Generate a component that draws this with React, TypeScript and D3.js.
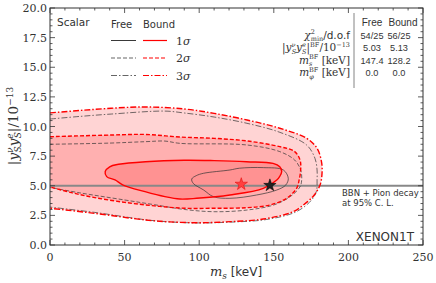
import React from 'react';
import * as d3 from 'd3';

type P = [number, number];

// contour points: [m_s in keV, |y y| in 1e-13]
const bound3: P[] = [
  [0, 11.15], [20, 11.35], [41, 11.54], [64, 11.65], [90, 11.48], [110, 11.11], [132, 10.55],
  [154, 9.85], [172, 9.0], [179, 8.16], [182, 7.0], [182.3, 6.0], [181, 5.06], [177, 4.2],
  [172, 3.6], [163, 2.81], [143, 2.19], [121, 1.97], [100, 1.88], [80, 1.95], [64, 2.11],
  [30, 2.67], [0, 3.1],
];
const free3: P[] = [
  [0, 10.63], [20, 10.85], [41, 11.05], [77, 11.3], [90, 11.14], [110, 10.8], [132, 10.27],
  [154, 9.51], [172, 8.44], [177.6, 7.31], [179, 6.33], [179, 5.5], [178.5, 4.5], [175, 3.75],
  [165, 2.8], [145, 2.15], [121, 1.93], [100, 1.86], [80, 1.95], [64, 2.13], [30, 2.75], [0, 3.2],
];
const bound2: P[] = [
  [0, 9.14], [41, 9.28], [64, 9.33], [87, 9.11], [110, 9.0], [132, 8.78], [154, 8.3],
  [164, 7.88], [167.6, 7.17], [168, 6.33], [167, 5.5], [165.3, 4.78], [158.6, 3.94],
  [147.5, 3.38], [131.8, 3.15], [110, 3.1], [90, 3.1], [70, 3.3], [50, 3.6], [30, 4.0],
  [15, 4.4], [0, 4.9],
];
const free2: P[] = [
  [0, 8.5], [40, 8.6], [64, 8.72], [77, 8.77], [87, 8.58], [132, 8.44], [154, 7.88],
  [164, 7.17], [168, 6.33], [168.7, 5.5], [167.5, 4.9], [161, 4.08], [150, 3.38],
  [132, 2.95], [110, 2.81], [90, 3.0], [70, 3.4], [50, 3.8], [20, 4.4], [0, 4.85],
];
const bound1: P[] = [
  [37, 6.2], [40, 6.6], [46, 6.81], [64, 7.03], [90, 7.15], [110, 7.12], [131.8, 7.03],
  [149.5, 6.89], [154, 6.61], [155.3, 6.2], [154, 5.8], [152, 5.49], [143, 4.78],
  [120.6, 4.22], [98.3, 3.94], [87, 3.88], [77, 4.08], [63.7, 4.5], [49, 5.06],
  [43.6, 5.49], [38, 5.77],
];
const free1: P[] = [
  [95, 5.57], [98, 5.85], [102.8, 6.05], [120.6, 6.33], [127, 6.48], [143, 6.53],
  [156.4, 6.33], [159.7, 5.63], [158, 5.06], [152, 4.64], [138.5, 4.22], [120.6, 3.94],
  [109.5, 4.08], [103, 4.64], [96, 5.2],
];

const bfFree: P = [147.4, 5.03];
const bfBound: P = [128.2, 5.13];
const bbnLimit = 5.0;

const xTicks = [0, 50, 100, 150, 200, 250];
const yTicks = [0, 2.5, 5, 7.5, 10, 12.5, 15, 17.5, 20];
const xMinor = d3.range(0, 251, 10);
const yMinor = d3.range(0, 20.01, 0.5);

const tableCols = ['Free', 'Bound'];
const chi2Row = ['54/25', '56/25'];
const couplingRow = ['5.03', '5.13'];
const msRow = ['147.4', '128.2'];
const mphiRow = ['0.0', '0.0'];

const sigmaLabels = ['1σ', '2σ', '3σ'];
const dashes = ['none', '4,2', '6,2,1.5,2'];

const SERIF = '"DejaVu Serif", serif';
const SANS = '"DejaVu Sans", sans-serif';
const NUM = '"Liberation Sans", sans-serif';
const INK = '#333';

export default function App() {
  const L = 50, R = 423, T = 8, B = 245;
  const x = d3.scaleLinear().domain([0, 250]).range([L, R]);
  const y = d3.scaleLinear().domain([0, 20]).range([B, T]);

  const open = d3.line<P>().x(d => x(d[0])).y(d => y(d[1])).curve(d3.curveCatmullRom.alpha(0.5));
  const closed = d3.line<P>().x(d => x(d[0])).y(d => y(d[1])).curve(d3.curveCatmullRomClosed.alpha(0.5));
  const star = d3.symbol().type(d3.symbolStar).size(48)();

  const fmt = d3.format('.1f');

  // table column centres
  const colX = [372, 399];
  const rowY = [38.5, 51, 63.5, 76];
  const rows = [chi2Row, couplingRow, msRow, mphiRow];
  const s = 6.5; // script size in the table

  return (
    <svg width={436} height={283} style={{ position: 'absolute', left: 0, top: 0 }}
      xmlns="http://www.w3.org/2000/svg">
      <defs>
        <clipPath id="plot"><rect x={L} y={T} width={R - L} height={B - T} /></clipPath>
      </defs>
      <rect width={436} height={283} fill="#fff" />
      <g clipPath="url(#plot)">
        {[bound3, bound2].map((c, i) => (
          <path key={'f' + i} d={open(c) + 'Z'} fill="#ff0000" fillOpacity={0.17} />
        ))}
        <path d={closed(bound1) || ''} fill="#ff0000" fillOpacity={0.17} />
        <line x1={L} x2={R} y1={y(bbnLimit)} y2={y(bbnLimit)} stroke="#888" strokeWidth={1.8} />
        <path d={open(free3) || ''} fill="none" stroke="#333" strokeWidth={0.7} strokeDasharray={dashes[2]} />
        <path d={open(free2) || ''} fill="none" stroke="#333" strokeWidth={0.7} strokeDasharray={dashes[1]} />
        <path d={closed(free1) || ''} fill="none" stroke="#333" strokeWidth={0.7} />
        <path d={open(bound3) || ''} fill="none" stroke="#ff0000" strokeWidth={1.4} strokeDasharray={dashes[2]} />
        <path d={open(bound2) || ''} fill="none" stroke="#ff0000" strokeWidth={1.4} strokeDasharray={dashes[1]} />
        <path d={closed(bound1) || ''} fill="none" stroke="#ff0000" strokeWidth={1.4} />
        <path d={star} transform={`translate(${x(bfBound[0])},${y(bfBound[1])})`} fill="#ff4040" stroke="#e00000" strokeWidth={0.5} />
        <path d={star} transform={`translate(${x(bfFree[0])},${y(bfFree[1])})`} fill="#222" stroke="#000" strokeWidth={0.5} />
      </g>

      {/* frame and ticks */}
      <rect x={L} y={T} width={R - L} height={B - T} fill="none" stroke={INK} strokeWidth={1} />
      <g stroke={INK} strokeWidth={0.8}>
        {xMinor.map(v => {
          const len = xTicks.includes(v) ? 5 : 2.5;
          return (
            <g key={'xm' + v}>
              <line x1={x(v)} x2={x(v)} y1={B} y2={B - len} />
              <line x1={x(v)} x2={x(v)} y1={T} y2={T + len} />
            </g>
          );
        })}
        {yMinor.map(v => {
          const len = Math.abs(v / 2.5 - Math.round(v / 2.5)) < 1e-6 ? 5 : 2.5;
          return (
            <g key={'ym' + v}>
              <line x1={L} x2={L + len} y1={y(v)} y2={y(v)} />
              <line x1={R} x2={R - len} y1={y(v)} y2={y(v)} />
            </g>
          );
        })}
      </g>
      <g fontFamily={SERIF} fontSize={11} fill={INK}>
        {xTicks.map(v => (
          <text key={'xt' + v} x={x(v)} y={B + 16} textAnchor="middle">{v}</text>
        ))}
        {yTicks.map(v => (
          <text key={'yt' + v} x={L - 3} y={y(v) + 4} textAnchor="end">{fmt(v)}</text>
        ))}
      </g>

      {/* axis labels */}
      <text x={236} y={276} textAnchor="middle" fill={INK} fontSize={13}>
        <tspan fontFamily={SERIF} fontStyle="italic">m</tspan>
        <tspan fontFamily={SERIF} fontStyle="italic" fontSize={9} dy={3}>s</tspan>
        <tspan fontFamily={SANS} fontSize={12} dy={-3}> [keV]</tspan>
      </text>
      <text transform="translate(18,126) rotate(-90)" textAnchor="middle" fill={INK} fontFamily={SERIF} fontSize={13.5}>
        <tspan>|</tspan>
        <tspan fontStyle="italic">y</tspan>
        <tspan fontSize={9} fontStyle="italic" dy={-5}>ν</tspan>
        <tspan fontSize={9} fontStyle="italic" dx={-5} dy={8}>S</tspan>
        <tspan fontStyle="italic" dy={-3}>y</tspan>
        <tspan fontSize={9} fontStyle="italic" dy={-5}>e</tspan>
        <tspan fontSize={9} fontStyle="italic" dx={-5} dy={8}>S</tspan>
        <tspan dy={-3}>|/10</tspan>
        <tspan fontSize={9} dy={-5}>−13</tspan>
      </text>

      {/* legend */}
      <text x={57} y={26} fontFamily={SANS} fontSize={10.5} fill={INK}>Scalar</text>
      <text x={111} y={28} fontFamily={SANS} fontSize={10} fill={INK}>Free</text>
      <text x={143} y={28} fontFamily={SANS} fontSize={10} fill={INK}>Bound</text>
      {sigmaLabels.map((lab, i) => {
        const ly = 40.5 + i * 17.5;
        return (
          <g key={lab}>
            <line x1={111} x2={136} y1={ly} y2={ly} stroke="#222" strokeWidth={i === 0 ? 0.9 : 0.7} strokeDasharray={dashes[i]} />
            <line x1={143} x2={167} y1={ly} y2={ly} stroke="#ff0000" strokeWidth={1.2} strokeDasharray={dashes[i]} />
            <text x={176} y={ly + 4} fontFamily={SERIF} fontSize={11} fill={INK}>
              {lab[0]}<tspan fontStyle="italic">{lab[1]}</tspan>
            </text>
          </g>
        );
      })}

      {/* best-fit table */}
      <line x1={354} x2={354} y1={13} y2={88} stroke="#666" strokeWidth={0.8} />
      <g fontFamily={NUM} fill={INK}>
        <text x={372} y={26} fontSize={10} textAnchor="middle">{tableCols[0]}</text>
        <text x={403} y={26} fontSize={10} textAnchor="middle">{tableCols[1]}</text>
        {rows.map((r, i) => r.map((v, j) => (
          <text key={`c${i}${j}`} x={colX[j]} y={rowY[i]} fontSize={9.2} textAnchor="middle">{v}</text>
        )))}
      </g>
      <g fill={INK} fontSize={10.5} textAnchor="end" fontFamily={SERIF}>
        <text x={350} y={rowY[0]}>
          <tspan fontStyle="italic">χ</tspan>
          <tspan fontSize={s} dy={-4.5}>2</tspan>
          <tspan fontSize={s} dx={-4.1} dy={7}>min</tspan>
          <tspan fontFamily={SANS} dy={-2.5}>/d.o.f</tspan>
        </text>
        <text x={350} y={rowY[1]}>
          <tspan>|</tspan>
          <tspan fontStyle="italic">y</tspan>
          <tspan fontSize={s} fontStyle="italic" dy={-4.5}>ν</tspan>
          <tspan fontSize={s} fontStyle="italic" dx={-3.8} dy={7}>S</tspan>
          <tspan fontStyle="italic" dy={-2.5}>y</tspan>
          <tspan fontSize={s} fontStyle="italic" dy={-4.5}>e</tspan>
          <tspan fontSize={s} fontStyle="italic" dx={-3.8} dy={7}>S</tspan>
          <tspan dy={-2.5}>|</tspan>
          <tspan fontSize={s} dy={-4.5}>BF</tspan>
          <tspan dy={4.5}>/10</tspan>
          <tspan fontSize={s} dy={-4.5}>−13</tspan>
        </text>
        <text x={350} y={rowY[2]}>
          <tspan fontStyle="italic">m</tspan>
          <tspan fontSize={s} fontStyle="italic" dy={2.5}>s</tspan>
          <tspan fontSize={s} dx={-3.4} dy={-7}>BF</tspan>
          <tspan dy={4.5}> [keV]</tspan>
        </text>
        <text x={350} y={rowY[3]}>
          <tspan fontStyle="italic">m</tspan>
          <tspan fontSize={s} fontStyle="italic" dy={2.5}>φ</tspan>
          <tspan fontSize={s} dx={-4.8} dy={-7}>BF</tspan>
          <tspan dy={4.5}> [keV]</tspan>
        </text>
      </g>

      {/* annotations */}
      <text x={342} y={196} fontFamily={SANS} fontSize={8.5} fill={INK}>BBN + Pion decay</text>
      <text x={342} y={206} fontFamily={SANS} fontSize={8.5} fill={INK}>at 95% C. L.</text>
      <text x={414} y={241} textAnchor="end" fontFamily={SANS} fontSize={12} fill={INK}>XENON1T</text>
    </svg>
  );
}
